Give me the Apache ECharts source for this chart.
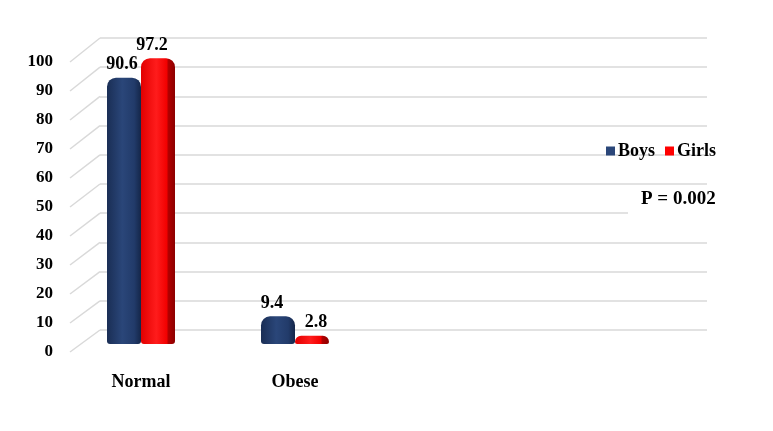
<!DOCTYPE html>
<html><head><meta charset="utf-8">
<script src="https://cdn.jsdelivr.net/npm/echarts@6/dist/echarts.min.js"></script>
<style>html,body{margin:0;padding:0;background:#fff}#c{width:773px;height:431px}</style>
</head><body><div id="c"></div>
<script>
const categories = ['Normal', 'Obese'];
const boys = [90.6, 9.4];
const girls = [97.2, 2.8];
const seriesNames = ['Boys', 'Girls'];
const yMin = 0, yMax = 100, yStep = 10;
const pText = 'P = 0.002';

const FONT = 'Liberation Serif';
const chart = echarts.init(document.getElementById('c'));
const boysColor = new echarts.graphic.LinearGradient(0, 0, 1, 0, [
  {offset: 0, color: '#1a2e55'}, {offset: 0.45, color: '#2a4679'},
  {offset: 0.8, color: '#223b6a'}, {offset: 1, color: '#142649'}]);
const girlsColor = new echarts.graphic.LinearGradient(0, 0, 1, 0, [
  {offset: 0, color: '#e20000'}, {offset: 0.45, color: '#ff1c1c'},
  {offset: 0.76, color: '#f20000'}, {offset: 0.8, color: '#b30000'}, {offset: 1, color: '#8c0000'}]);
const lbl = {show: true, position: 'top', distance: 4, color: '#000', fontFamily: FONT, fontWeight: 'bold', fontSize: 18,
  formatter: p => p.value.toFixed(1)};
const boysOffsets = [[-2, 0], [-6, 0]];
const girlsOffsets = [[-6, 0], [4, 0]];

chart.setOption({
  animation: false,
  backgroundColor: '#fff',
  grid: [
    {left: 100, right: 66, top: 38, height: 292},
    {left: 64, width: 308, top: 50, height: 294},
    {left: 58, width: 10, top: 62, height: 290}
  ],
  xAxis: [
    {gridIndex: 0, type: 'value', show: false},
    {gridIndex: 1, type: 'category', data: categories, axisLine: {show: false}, axisTick: {show: false},
      axisLabel: {margin: 29, color: '#000', fontFamily: FONT, fontWeight: 'bold', fontSize: 18}},
    {gridIndex: 2, type: 'value', show: false}
  ],
  yAxis: [
    {gridIndex: 0, type: 'value', min: yMin, max: yMax, interval: yStep, axisLabel: {show: false},
      axisLine: {show: false}, axisTick: {show: false}, splitLine: {lineStyle: {color: '#d9d9d9', width: 1.5}}},
    {gridIndex: 1, type: 'value', min: yMin, max: yMax, show: false, splitLine: {show: false}},
    {gridIndex: 2, type: 'value', min: yMin, max: yMax, interval: yStep, axisLine: {show: false}, axisTick: {show: false},
      splitLine: {show: false},
      axisLabel: {margin: 5, color: '#000', fontFamily: FONT, fontWeight: 'bold', fontSize: 17}}
  ],
  legend: {
    left: 601, top: 137, itemWidth: 9, itemHeight: 9, itemGap: 10, icon: 'rect',
    textStyle: {color: '#000', fontFamily: FONT, fontWeight: 'bold', fontSize: 18, padding: [0, 0, 0, -2]},
    data: [{name: seriesNames[0], itemStyle: {color: '#2a4679'}}, {name: seriesNames[1], itemStyle: {color: '#ff0000'}}]
  },
  series: [
    {name: seriesNames[0], type: 'bar', xAxisIndex: 1, yAxisIndex: 1, barWidth: 34, barGap: '0%',
      data: boys.map((v, i) => ({value: v, label: {offset: boysOffsets[i]}})),
      itemStyle: {color: boysColor, borderRadius: [9, 9, 3, 3]}, label: lbl},
    {name: seriesNames[1], type: 'bar', xAxisIndex: 1, yAxisIndex: 1, barWidth: 34,
      data: girls.map((v, i) => ({value: v, label: {offset: girlsOffsets[i]}})),
      itemStyle: {color: girlsColor, borderRadius: [9, 9, 3, 3]}, label: lbl}
  ]
});

// 3D side-wall lines connecting front tick labels to the back-wall gridlines
const side = [];
for (let v = yMin; v <= yMax; v += yStep) {
  const yBack = chart.convertToPixel({yAxisIndex: 0}, v);
  const yFront = chart.convertToPixel({yAxisIndex: 2}, v);
  side.push({type: 'line', z: -1, shape: {x1: 70, y1: yFront, x2: 100, y2: yBack},
    style: {stroke: '#d9d9d9', lineWidth: 1.5}});
}
chart.setOption({graphic: [
  {id: 'sidewall', type: 'group', children: side},
  {id: 'pbox', type: 'rect', left: 628, top: 186, z: 10, shape: {width: 80, height: 40}, style: {fill: '#fff'}},
  {id: 'ptext', type: 'text', left: 641, top: 190, z: 11,
    style: {text: pText, fill: '#000', fontFamily: FONT, fontWeight: 'bold', fontSize: 19}}
]});
</script></body></html>
